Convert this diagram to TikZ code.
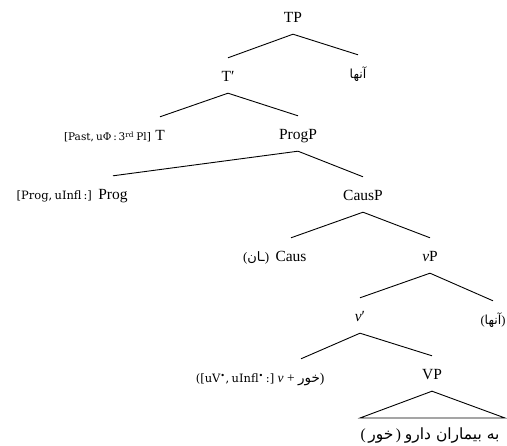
\documentclass[tikz,border=0pt]{standalone}
\usepackage{fontspec}
\setmainfont{Liberation Serif}
\newfontfamily\featfont{DejaVu Serif}
\newfontfamily\fa[Script=Arabic]{DejaVu Sans}
\TeXXeTstate=1
% feature bundles: slightly tighter word spacing
\newcommand\featsetup{\fontsize{11.5}{13}\selectfont\featfont\spaceskip=0.2em plus 0.1em\relax}
\begin{document}
\begin{tikzpicture}[x=1pt, y=-1pt,
  lbl/.style={inner xsep=1pt, inner ysep=9pt, text height=15pt, text depth=2pt,
              anchor=base, font=\fontsize{15.5}{18}\selectfont},
  farsi/.style={lbl, font=\fontsize{12.5}{14}\selectfont\fa},
  feat/.style={inner sep=0pt, anchor=base east, font=\featsetup},
  branch/.style={draw=black, line width=0.9pt}]
\useasboundingbox (0,0) rectangle (507,446);

% heads and phrases
\node[lbl] (tp)    at (293,23)  {TP};
\node[lbl] (tbar)  at (228,82)  {T′};
\node[farsi] (subj) at (358,79) {آنها};
\node[lbl] (thead) at (160,141) {T};
\node[feat, font=\featsetup\fontsize{10.5}{12}\selectfont] (tfeat) at ([xshift=-3pt]thead.base west)
  {[Past, uΦ\,:\,3\textsuperscript{rd} Pl]};
\node[lbl] (progp) at (298,140) {ProgP};
\node[lbl] (proghead) at (113,200) {Prog};
\node[feat] (progfeat) at ([xshift=-5pt]proghead.base west) {[Prog, uInfl\,:]};
\node[lbl] (causp) at (363,201) {CausP};
\node[lbl] (caushead) at (291,262) {Caus};
\node[feat, font=\fontsize{13}{15}\selectfont] (causaff) at ([xshift=-5pt]caushead.base west) {({\fa ـان})};
\node[lbl] (vp) at (430,262) {\textit{v}P};
\node[lbl] (vbar) at (360,322) {\textit{v}′};
\node[farsi] (subjcopy) at (493,325) {\rmfamily(\fa آنها\rmfamily)};
\node[lbl, font=\fontsize{13.5}{15}\selectfont] (vhead) at (301,383) {\textit{v} + {\fa خور})};
\node[feat] (vfeat) at ([xshift=-2pt]vhead.base west) {([uV\textsuperscript{•}, uInfl\textsuperscript{•}\,:]};
\node[lbl] (VP) at (432,380) {VP};
\node[inner sep=0pt, anchor=base, font=\fontsize{15.5}{17}\selectfont] (obj) at (430,440)
  {(\,{\fa خور}\,) {\fa\beginR به بیماران دارو\endR}};
\coordinate (tril) at (360,418);
\coordinate (trir) at (505,418);

% branches
\draw[branch] (tp.south) -- (tbar.north);
\draw[branch] (tp.south) -- (subj.north);
\draw[branch] (tbar.south) -- (thead.north);
\draw[branch] (tbar.south) -- (progp.north);
\draw[branch] (progp.south) -- (proghead.north);
\draw[branch] (progp.south) -- (causp.north);
\draw[branch] (causp.south) -- (caushead.north);
\draw[branch] (causp.south) -- (vp.north);
\draw[branch] (vp.south) -- (vbar.north);
\draw[branch] (vp.south) -- (subjcopy.north);
\draw[branch] (vbar.south) -- (vhead.north);
\draw[branch] (vbar.south) -- (VP.north);
\draw[branch, line join=miter] (VP.south) -- (tril) -- (trir) -- cycle;
\end{tikzpicture}
\end{document}
